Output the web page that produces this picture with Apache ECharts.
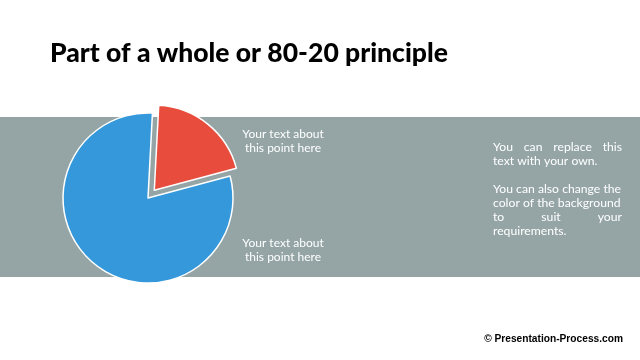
<!DOCTYPE html>
<html><head><meta charset="utf-8">
<script src="https://cdn.jsdelivr.net/npm/echarts@6/dist/echarts.min.js"></script>
<style>html,body{margin:0;padding:0;background:#fff}#c{width:640px;height:360px}</style>
</head><body><div id="c"></div>
<script>
var categories = ['Part', 'Whole'];
var values = [20, 80];
var colors = ['#e74c3c', '#3498db'];
var pointTexts = ['Your text about\nthis point here', 'Your text about\nthis point here'];
var titleText = 'Part of a whole or 80-20 principle';
var sideLines = [
  ['You', 'can', 'replace', 'this'],
  ['text with your own.'],
  null,
  ['You can also change the'],
  ['color of the background'],
  ['to', 'suit', 'your'],
  ['requirements.']
];
var justified = [true, false, false, false, false, true, false];
var footer = '\u00a9 Presentation-Process.com';

var chart = echarts.init(document.getElementById('c'));
var sideFont = '12.2px Lato';
var graphics = [
  {type:'rect', z:0, shape:{x:0,y:117,width:640,height:160}, style:{fill:'#95a5a6'}},
  {type:'text', x:50, y:53, style:{text:titleText, font:'900 26.5px Lato', fill:'#000', verticalAlign:'middle'}},
  {type:'text', x:283, y:141, style:{text:pointTexts[0], font:'12px Lato', fill:'#fff', align:'center', verticalAlign:'middle', lineHeight:14}},
  {type:'text', x:283, y:250, style:{text:pointTexts[1], font:'12px Lato', fill:'#fff', align:'center', verticalAlign:'middle', lineHeight:14}},
  {type:'text', x:623, y:339, style:{text:footer, font:'bold 10.2px Arial', fill:'#000', align:'right', verticalAlign:'middle'}}
];
var lx = 493, rx = 622, y0 = 147, lh = 14;
function textWidth(w){
  var cv = textWidth._c || (textWidth._c = document.createElement('canvas').getContext('2d'));
  cv.font = sideFont;
  return cv.measureText(w).width;
}
sideLines.forEach(function(words, i){
  if (!words) return;
  var y = y0 + i * lh;
  if (justified[i] && words.length > 1) {
    var widths = words.map(textWidth);
    var total = widths.reduce(function(a,b){return a+b;},0);
    var gap = (rx - lx - total) / (words.length - 1);
    var x = lx;
    words.forEach(function(w, j){
      graphics.push({type:'text', z:5, x: x, y: y, style:{text:w, font:sideFont, fill:'#fff', align:'left', verticalAlign:'middle'}});
      x += widths[j] + gap;
    });
  } else {
    graphics.push({type:'text', z:5, x:lx, y:y, style:{text:words[0], font:sideFont, fill:'#fff', align:'left', verticalAlign:'middle'}});
  }
});

chart.setOption({
  animation: false,
  graphic: graphics,
  series: [{
    type: 'pie',
    center: [148, 198],
    radius: [0, 85],
    startAngle: 87,
    clockwise: true,
    selectedMode: 'single',
    selectedOffset: 10,
    label: {show: false},
    labelLine: {show: false},
    itemStyle: {borderColor: '#fff', borderWidth: 1.5},
    emphasis: {disabled: true},
    data: categories.map(function(c, i){
      return {name: c, value: values[i], selected: i === 0, itemStyle: {color: colors[i]}};
    })
  }]
});
</script></body></html>
